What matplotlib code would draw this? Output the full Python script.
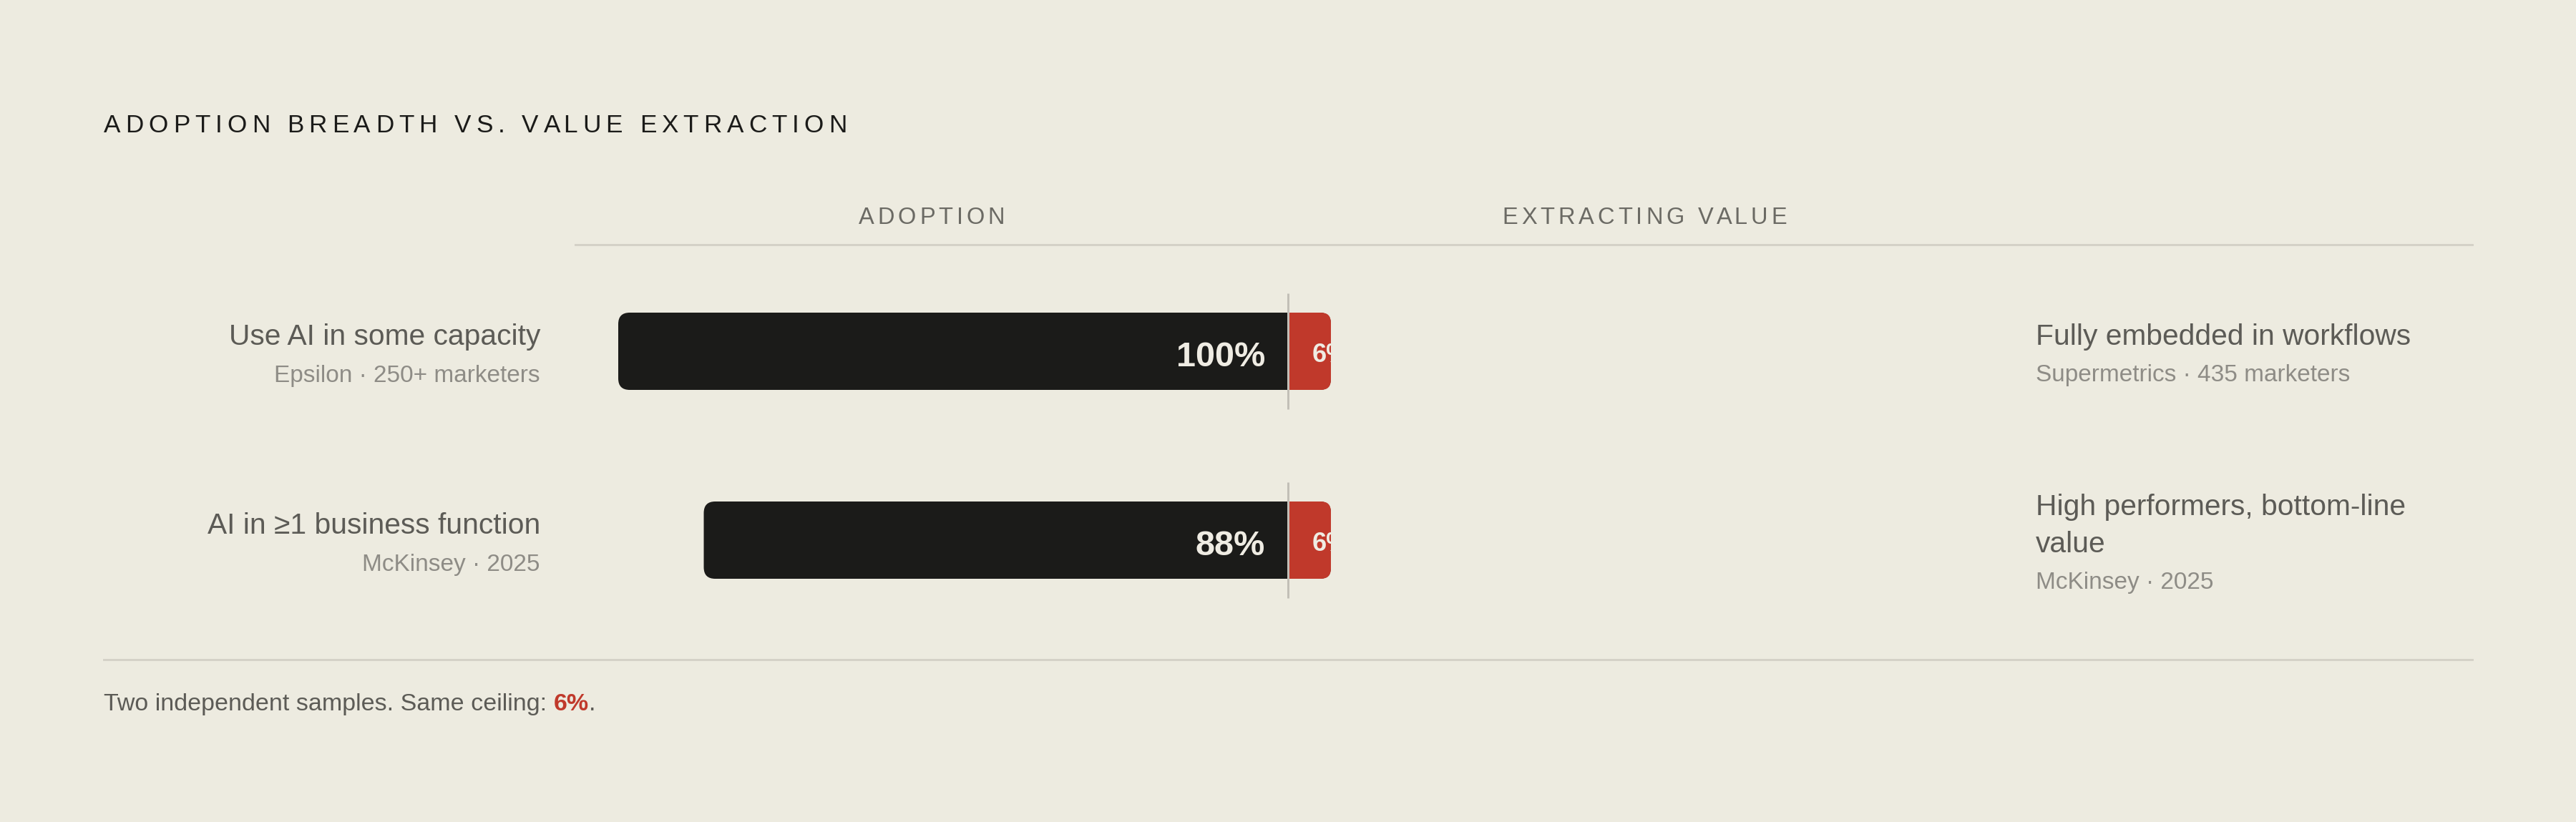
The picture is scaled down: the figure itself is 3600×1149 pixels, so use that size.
import matplotlib
matplotlib.use("Agg")
import matplotlib.pyplot as plt
from matplotlib.patches import FancyBboxPatch, Rectangle
from matplotlib.lines import Line2D
from matplotlib.font_manager import FontProperties
import matplotlib.transforms as mtransforms
import numpy as np

# ---------------- data ----------------
title = "ADOPTION BREADTH VS. VALUE EXTRACTION"
col_headers = ["ADOPTION", "EXTRACTING VALUE"]
left_labels = ["Use AI in some capacity", "AI in \u22651 business function"]
left_sources = ["Epsilon \u00b7 250+ marketers", "McKinsey \u00b7 2025"]
adoption = [100, 88]
extracting = [6, 6]
right_labels = ["Fully embedded in workflows", "High performers, bottom-line\nvalue"]
right_sources = ["Supermetrics \u00b7 435 marketers", "McKinsey \u00b7 2025"]
footer_text = "Two independent samples. Same ceiling: "
footer_value = "6%"
footer_end = "."

# ---------------- style ----------------
W, H, DPI = 3600, 1149, 100
PT = 72.0 / DPI
BG = "#edebe0"
BAR = "#1b1b19"
RED = "#c0392b"
LIGHT = "#efece3"
LABEL = "#5c5b56"
SUB = "#8e8c86"
HEAD = "#6b6a64"
TITLEC = "#1b1b19"
RULE = "#d4d1c7"
VLINE = "#c2bfb7"
FAM = ["Liberation Sans", "DejaVu Sans"]
plt.rcParams["font.family"] = FAM

fig = plt.figure(figsize=(W / DPI, H / DPI), dpi=DPI, facecolor=BG)


def fbox(l, t, r, b):
    return [l / W, 1 - b / H, (r - l) / W, (b - t) / H]


# one shared percent scale: 100 at the left end of the track, 0 at its right end
ax = fig.add_axes(fbox(864, 359, 1860, 887))
ax.set_axis_off()
ax.patch.set_alpha(0)
ax.set_xlim(100, 0)
ax.set_ylim(1.5, -0.5)

rows = np.arange(len(adoption))
BAR_H = 108 / 264.0

bb = ax.get_position()
PX_X = bb.width * W / 100.0
PX_Y = bb.height * H / 2.0
ASPECT = PX_X / PX_Y


def rounded_bar(width, y, color, radius_px, z, square_far=False):
    r = radius_px / PX_X
    p = FancyBboxPatch((0, y - BAR_H / 2), width, BAR_H,
                       boxstyle=f"round,pad=0,rounding_size={r}",
                       mutation_aspect=ASPECT, fc=color, ec="none", lw=0, zorder=z)
    ax.add_patch(p)
    if square_far:
        sq = min(width, 2 * r)
        ax.add_patch(Rectangle((width - sq, y - BAR_H / 2), sq, BAR_H, fc=color,
                               ec="none", lw=0, zorder=z))


def offset(dx_px, dy_px):
    return ax.transData + mtransforms.ScaledTranslation(dx_px / DPI, -dy_px / DPI,
                                                        fig.dpi_scale_trans)


for i, (a, e) in enumerate(zip(adoption, extracting)):
    y = rows[i]
    rounded_bar(a, y, BAR, 16, 2)
    rounded_bar(e, y, RED, 14, 3, square_far=True)
    ax.text(e, y, f"{a}%", transform=offset(-32, 21), ha="right", va="baseline",
            fontsize=35, fontweight="bold", color=LIGHT, zorder=5)
    t = ax.text(e, y, f"{e}%", transform=offset(33, 15), ha="left", va="baseline",
                fontsize=26, fontweight="bold", color=LIGHT, zorder=5)
    clip = mtransforms.TransformedBbox(
        mtransforms.Bbox([[0, y - BAR_H / 2], [e, y + BAR_H / 2]]), ax.transData)
    t.set_clip_box(clip)
    t.set_clip_on(True)

ax.vlines(np.asarray(extracting, float), rows - 0.305, rows + 0.305, colors=VLINE,
          lw=3 * PT, clip_on=False, zorder=6)

# ---------------- row labels ----------------
trans = mtransforms.blended_transform_factory(fig.transFigure, ax.transData)
LINE_SP = 53


def place(x_px, y, dy_px, s, **kw):
    return fig.text(x_px / W, y, s,
                    transform=trans + mtransforms.ScaledTranslation(0, -dy_px / DPI,
                                                                    fig.dpi_scale_trans),
                    va="baseline", **kw)


def label_block(x_px, y, label, source, ha, main_dy, sub_dy):
    lines = label.split("\n")
    n = len(lines)
    shift = (n - 1) * LINE_SP / 2.0
    for k, ln in enumerate(lines):
        place(x_px, y, main_dy - shift + k * LINE_SP, ln, ha=ha, fontsize=29.3, color=LABEL)
    place(x_px, y, sub_dy - shift + (n - 1) * LINE_SP, source, ha=ha, fontsize=24, color=SUB)


for i in range(len(rows)):
    label_block(755, rows[i], left_labels[i], left_sources[i], "right", -9, 43)
    label_block(2845, rows[i], right_labels[i], right_sources[i], "left", -9, 42)

# ---------------- tracked text helpers ----------------
renderer = fig.canvas.get_renderer()


def adv(s, prop):
    w1 = renderer.get_text_width_height_descent(s + "|", prop, ismath=False)[0]
    w0 = renderer.get_text_width_height_descent("|", prop, ismath=False)[0]
    return w1 - w0


def tracked(s, x_px, y_px, size, color, track_em, ha="left", weight="normal"):
    prop = FontProperties(family=FAM, size=size, weight=weight)
    em = size / PT
    tr = track_em * em
    total = adv(s, prop) + (len(s) - 1) * tr
    x0 = x_px if ha == "left" else x_px - total / 2.0
    for k, ch in enumerate(s):
        if ch == " ":
            continue
        x = x0 + adv(s[:k], prop) + k * tr
        fig.text(x / W, 1 - y_px / H, ch, fontproperties=prop, color=color,
                 ha="left", va="baseline")


tracked(title, 145, 185, 25.3, TITLEC, 0.2)
tracked(col_headers[0], 1302, 313, 23.5, HEAD, 0.15, ha="center")
tracked(col_headers[1], 2298, 313, 23.5, HEAD, 0.15, ha="center")

# ---------------- rules ----------------
fig.add_artist(Line2D([804 / W, 3455 / W], [1 - 342 / H] * 2, transform=fig.transFigure,
                      color=RULE, lw=3 * PT))
fig.add_artist(Line2D([145 / W, 3455 / W], [1 - 922 / H] * 2, transform=fig.transFigure,
                      color=RULE, lw=3 * PT))

# ---------------- footer ----------------
p_reg = FontProperties(family=FAM, size=24.5)
p_bold = FontProperties(family=FAM, size=24.5, weight="bold")
fx = 145
fy = 1 - 993 / H
fig.text(fx / W, fy, footer_text, fontproperties=p_reg, color=LABEL, va="baseline")
fx += adv(footer_text, p_reg)
fig.text(fx / W, fy, footer_value, fontproperties=p_bold, color=RED, va="baseline")
fx += adv(footer_value, p_bold)
fig.text(fx / W, fy, footer_end, fontproperties=p_reg, color=LABEL, va="baseline")

fig.savefig("out.png", dpi=DPI, facecolor=BG)
